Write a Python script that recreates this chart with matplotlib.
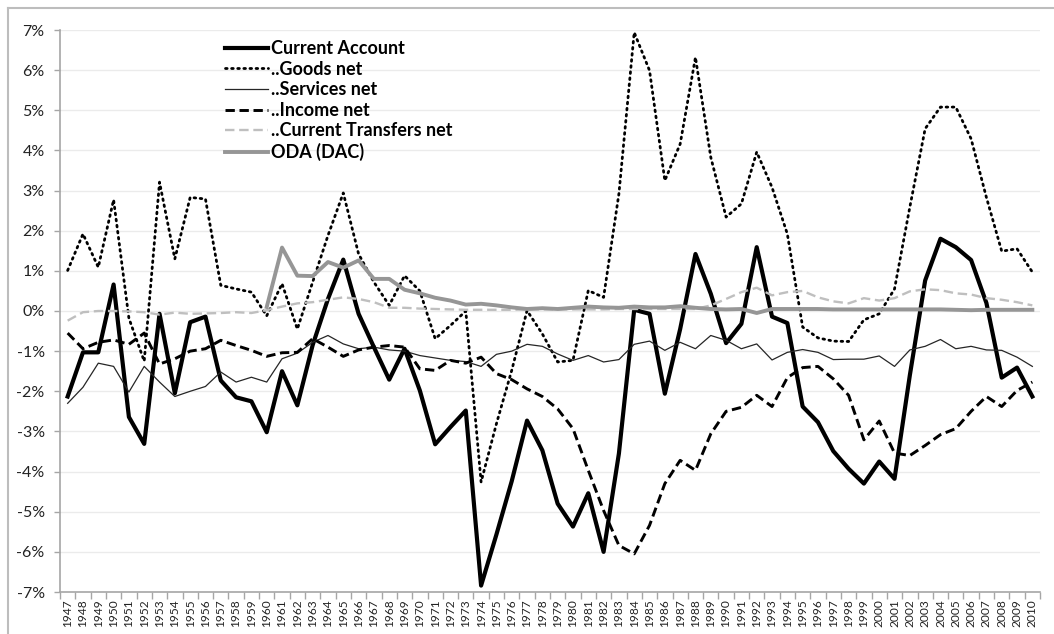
import numpy as np
import matplotlib
matplotlib.use("Agg")
from matplotlib import pyplot as plt
from matplotlib.ticker import FuncFormatter, FixedLocator
from matplotlib.lines import Line2D

plt.rcParams['font.family'] = ['Lato', 'DejaVu Sans']

#-------------------------- datos (% ) --------------------------
years = list(range(1947, 2011))

current_account = [
    -2.13, -1.03, -1.03, 0.66, -2.64, -3.31, -0.07, -2.05, -0.28, -0.14,
    -1.73, -2.15, -2.25, -3.02, -1.5, -2.35, -0.85, 0.3, 1.28, -0.07,
    -0.9, -1.71, -0.94, -1.98, -3.32, -2.89, -2.48, -6.84, -5.57, -4.24,
    -2.73, -3.47, -4.8, -5.37, -4.54, -6.0, -3.55, 0.03, -0.07, -2.06,
    -0.45, 1.42, 0.43, -0.8, -0.32, 1.59, -0.14, -0.3, -2.38, -2.77,
    -3.49, -3.93, -4.3, -3.75, -4.18, -1.6, 0.76, 1.8, 1.59, 1.27,
    0.2, -1.66, -1.41, -2.13]

goods_net = [
    1.01, 1.92, 1.09, 2.77, -0.18, -1.25, 3.21, 1.3, 2.83, 2.79,
    0.64, 0.55, 0.47, -0.12, 0.68, -0.45, 0.72, 1.88, 2.94, 1.42,
    0.72, 0.14, 0.88, 0.5, -0.69, -0.36, 0.0, -4.26, -2.81, -1.48,
    0.01, -0.57, -1.27, -1.23, 0.51, 0.34, 2.92, 6.94, 5.99, 3.25,
    4.16, 6.32, 3.83, 2.34, 2.67, 3.96, 3.08, 1.92, -0.4, -0.67,
    -0.75, -0.76, -0.22, -0.07, 0.55, 2.59, 4.54, 5.08, 5.08, 4.29,
    2.83, 1.49, 1.55, 0.97]

services_net = [
    -2.3, -1.9, -1.3, -1.38, -2.02, -1.38, -1.77, -2.13, -2.0, -1.88,
    -1.52, -1.77, -1.65, -1.77, -1.19, -1.05, -0.78, -0.61, -0.82, -0.94,
    -0.9, -0.97, -1.0, -1.11, -1.17, -1.23, -1.26, -1.38, -1.08, -1.0,
    -0.83, -0.88, -1.07, -1.23, -1.11, -1.27, -1.21, -0.83, -0.75, -0.98,
    -0.78, -0.94, -0.61, -0.73, -0.94, -0.82, -1.22, -1.03, -0.96, -1.03,
    -1.21, -1.2, -1.2, -1.12, -1.38, -0.97, -0.88, -0.71, -0.94, -0.88,
    -0.97, -0.98, -1.15, -1.38]

income_net = [
    -0.55, -0.94, -0.78, -0.72, -0.83, -0.55, -1.32, -1.19, -1.0, -0.94,
    -0.73, -0.86, -0.98, -1.13, -1.04, -1.03, -0.69, -0.9, -1.13, -0.97,
    -0.9, -0.86, -0.9, -1.44, -1.48, -1.23, -1.3, -1.15, -1.56, -1.71,
    -1.94, -2.13, -2.44, -2.93, -3.97, -4.97, -5.84, -6.05, -5.34, -4.3,
    -3.72, -3.97, -3.06, -2.5, -2.4, -2.1, -2.38, -1.66, -1.41, -1.38,
    -1.69, -2.1, -3.21, -2.74, -3.54, -3.6, -3.35, -3.08, -2.93, -2.5,
    -2.13, -2.38, -1.98, -1.77]

transfers_net = [
    -0.24, -0.03, 0.0, 0.0, -0.01, -0.03, -0.09, -0.04, -0.07, -0.06,
    -0.05, -0.03, -0.05, 0.02, 0.11, 0.19, 0.22, 0.28, 0.34, 0.3,
    0.22, 0.08, 0.08, 0.06, 0.05, 0.04, 0.03, 0.03, 0.03, 0.03,
    0.04, 0.04, 0.04, 0.04, 0.04, 0.04, 0.05, 0.05, 0.05, 0.05,
    0.05, 0.05, 0.14, 0.3, 0.47, 0.58, 0.39, 0.47, 0.5, 0.34,
    0.24, 0.19, 0.32, 0.26, 0.32, 0.49, 0.54, 0.52, 0.44, 0.41,
    0.32, 0.28, 0.22, 0.14]

oda_dac = [None] * 13 + [
    0.1, 1.58, 0.88, 0.87, 1.22, 1.08, 1.26, 0.8, 0.8, 0.53,
    0.44, 0.33, 0.26, 0.16, 0.18, 0.14, 0.09, 0.05, 0.07, 0.05,
    0.08, 0.11, 0.09, 0.08, 0.11, 0.09, 0.09, 0.12, 0.08, 0.05,
    0.04, 0.05, -0.05, 0.05, 0.05, 0.05, 0.05, 0.04, 0.04, 0.04,
    0.04, 0.04, 0.04, 0.04, 0.04, 0.03, 0.02, 0.03, 0.03, 0.03, 0.03]

#-------------------------- figura --------------------------
fig = plt.figure(figsize=(10.54, 6.34), dpi=100)
ax = fig.add_axes([60/1054, 1-592/634, 980/1054, 562/634])

x = np.arange(len(years))

ax.plot(x, current_account, color='black', lw=3.0, label='Current Account', zorder=3)
ax.plot(x, goods_net, color='black', lw=2.0, linestyle=(0, (0.6, 1.6)),
        dash_capstyle='round', label='..Goods net', zorder=4)
ax.plot(x, services_net, color='#262626', lw=0.9, label='..Services net', zorder=5)
ax.plot(x, income_net, color='black', lw=2.1, linestyle=(0, (3.2, 1.6)),
        label='..Income net', zorder=6)
ax.plot(x, transfers_net, color='#bfbfbf', lw=1.7, linestyle=(0, (4, 2)),
        label='..Current Transfers net', zorder=7)
ax.plot(x, np.array(oda_dac, dtype=float), color='#969696', lw=2.8,
        label='ODA (DAC)', zorder=8)

ax.set_xlim(-0.5, len(years) - 0.5)
ax.set_ylim(-7, 7)
ax.set_yticks(range(-7, 8))
ax.yaxis.set_major_formatter(FuncFormatter(lambda v, p: '%d%%' % v))
ax.grid(axis='y', color='#ebebeb', lw=1.0)
ax.set_axisbelow(True)

ax.set_xticks(x)
ax.set_xticklabels([str(y) for y in years], rotation=90, fontsize=8.6, color='#222222')
ax.xaxis.set_minor_locator(FixedLocator(np.arange(-0.5, len(years), 1)))
ax.tick_params(axis='x', which='major', length=0, pad=5)
ax.tick_params(axis='x', which='minor', length=5, color='#a6a6a6', width=1)
ax.tick_params(axis='y', length=4, color='#a6a6a6', width=1, labelsize=11.5,
               labelcolor='#222222', pad=7)

for s in ['top', 'right']:
    ax.spines[s].set_visible(False)
for s in ['left', 'bottom']:
    ax.spines[s].set_color('#a6a6a6')
    ax.spines[s].set_linewidth(1.2)

leg = ax.legend(loc='upper left', bbox_to_anchor=((225-60)/980, (592-40)/562),
                frameon=False, borderpad=0, borderaxespad=0, handlelength=2.4,
                handletextpad=0.15, labelspacing=0.2,
                prop={'family': 'Lato', 'weight': 'bold', 'size': 13})

# marco gris de la figura
fig.add_artist(Line2D([8/1054, 1], [1-8/634, 1-8/634], color='#bdbdbd', lw=1.5))
fig.add_artist(Line2D([8/1054, 8/1054], [0, 1-8/634], color='#bdbdbd', lw=1.5))

fig.savefig('out.png', dpi=100)
